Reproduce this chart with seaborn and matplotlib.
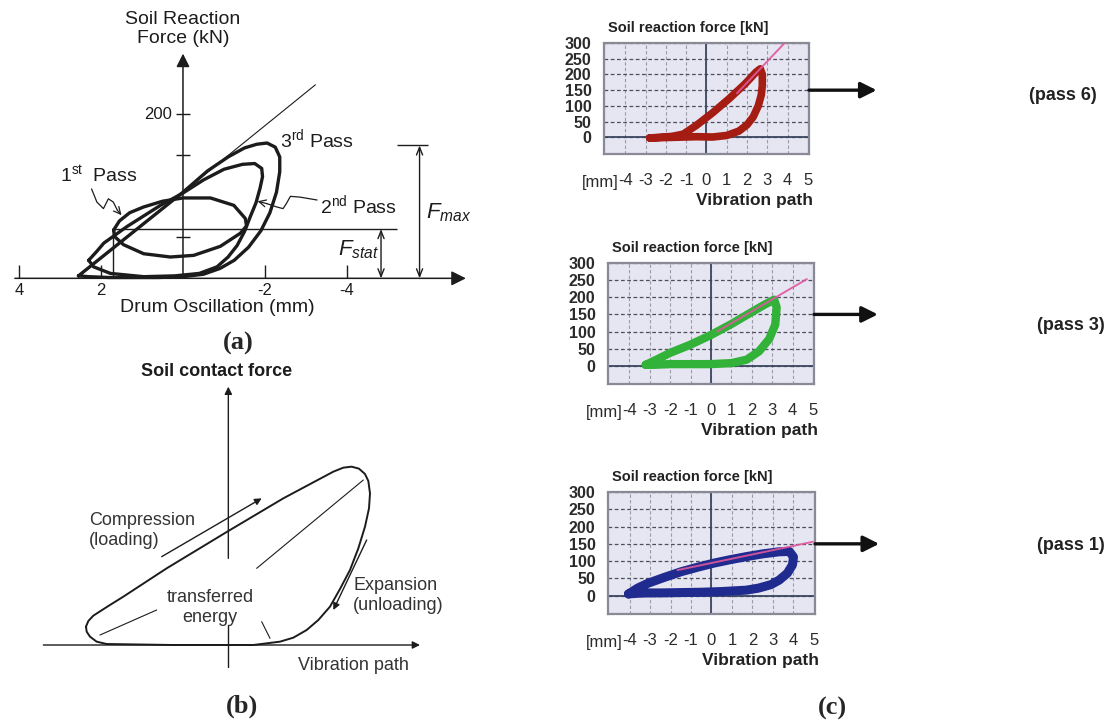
import matplotlib
matplotlib.use("Agg")
import matplotlib.pyplot as plt
import seaborn as sns

sns.set_style("white")
plt.rcParams["font.family"] = ["Liberation Sans", "DejaVu Sans"]
plt.rcParams["mathtext.fontset"] = "custom"
plt.rcParams["mathtext.rm"] = "Liberation Sans"
plt.rcParams["mathtext.it"] = "Liberation Sans:italic"
plt.rcParams["mathtext.bf"] = "Liberation Sans:bold"

# ---------------- Panel (a): drum oscillation [mm] vs soil reaction force [kN]
a_pass1_x = [1.69, 1.55, 1.30, 0.96, 0.50, 0.00, -0.67, -1.24, -1.52, -1.55, -1.40, -0.91, -0.26, 0.31, 0.96, 1.45, 1.67]
a_pass1_y = [59, 70, 80, 87, 94, 98, 98, 89, 73, 64, 55, 39, 28, 26, 30, 41, 51]
a_pass2_x = [2.30, 2.10, 1.93, 1.37, 0.55, 0.00, -0.50, -1.00, -1.45, -1.75, -1.92, -1.94, -1.88, -1.78,
             -1.64, -1.50, -1.32, -1.10, -0.83, -0.40, 0.20, 0.96, 1.77, 2.18]
a_pass2_y = [22, 33, 43, 63, 89, 104, 120, 133, 139, 140, 134, 124, 110, 92, 75, 57, 40, 26, 14, 6, 3, 2, 6, 14]
a_pass3_x = [2.55, 2.00, 1.00, 0.00, -0.60, -1.10, -1.50, -1.80, -2.05, -2.25, -2.36, -2.36, -2.28, -2.12,
             -1.90, -1.60, -1.25, -0.90, -0.50, 0.00, 0.60, 1.20, 1.80, 2.30]
a_pass3_y = [3, 25, 65, 105, 131, 148, 159, 163.5, 165, 160, 148, 130, 105, 80, 58, 38, 22, 12, 5, 2, 1, 1, 1, 2]
a_tangent_x = [2.55, -3.23]
a_tangent_y = [2, 236]
a_lead1_x = [2.23, 2.10, 1.94, 1.82, 1.70, 1.60, 1.50]
a_lead1_y = [109, 93, 85, 97, 93, 83, 77]
a_lead2_x = [-3.27, -2.86, -2.62, -2.52, -2.44, -2.29, -2.05, -1.82]
a_lead2_y = [95.5, 99, 100, 91, 85, 87, 91, 94]
a_xticks = [4, 2, -2, -4]
a_xtick_labels = ["4", "2", "-2", "-4"]
a_yticks = [50, 150, 200]
a_ylabelled = {200: "200"}
a_fstat = 60
a_fmax = 162
a_fstat_line = (1.71, -5.21)
a_fstat_arrow_x = -4.83
a_fmax_arrow_x = -5.77
a_fmax_bar = (-5.21, -5.98)

# ---------------- Panel (b): schematic loop
b_loop_x = [-4.27, -4.20, -4.05, -3.60, -3.15, -1.85, 0.00, 1.65, 3.15, 3.45, 3.70, 3.92, 4.10, 4.20, 4.25,
            4.22, 4.10, 3.90, 3.65, 3.35, 3.05, 2.70, 2.35, 1.95, 1.55, 0.75, -1.65, -3.65, -3.95, -4.15, -4.25]
b_loop_y = [0.55, 0.72, 0.88, 1.17, 1.45, 2.30, 3.42, 4.40, 5.20, 5.32, 5.35, 5.29, 5.13, 4.92, 4.55,
            4.10, 3.55, 2.90, 2.25, 1.68, 1.15, 0.75, 0.45, 0.22, 0.10, 0.00, 0.00, 0.03, 0.10, 0.25, 0.40]
b_hatch = [((-3.85, 0.30), (-2.15, 1.05)), ((0.85, 2.30), (4.05, 4.95)), ((1.00, 0.70), (1.25, 0.20))]
b_compression = ((-2.0, 2.65), (1.0, 4.4))
b_expansion = ((4.15, 3.15), (3.15, 1.05))

# ---------------- Panel (c): measured loops, vibration path [mm] vs soil reaction force [kN]
c_xticks = [-4, -3, -2, -1, 0, 1, 2, 3, 4, 5]
c_yticks = [0, 50, 100, 150, 200, 250, 300]
c6_x = [-2.80, -2.30, -1.70, -1.15, -0.50, 0.30, 1.10, 1.90, 2.45, 2.65, 2.75, 2.75, 2.70, 2.55, 2.30,
        2.00, 1.60, 1.00, 0.30, -0.50]
c6_y = [-2, 0, 3, 10, 38, 78, 122, 170, 208, 218, 200, 165, 135, 100, 65, 40, 20, 6, 1, 2]
c6_tan_x = [1.5, 3.85]
c6_tan_y = [140, 300]
c3_x = [-3.20, -2.60, -2.00, -1.00, 0.00, 1.00, 2.00, 2.70, 3.10, 3.22, 3.15, 2.85, 2.35, 1.75, 1.00, 0.00,
        -1.00, -2.00, -2.80]
c3_y = [3, 20, 38, 62, 90, 122, 157, 181, 193, 170, 120, 78, 42, 18, 8, 5, 5, 5, 3]
c3_tan_x = [0.3, 4.7]
c3_tan_y = [100, 253]
c1_x = [-4.05, -3.60, -3.10, -2.30, -1.50, -0.70, 0.10, 0.90, 1.70, 2.50, 3.30, 3.80, 4.00, 3.95, 3.70, 3.30,
        2.90, 2.30, 1.70, 0.50, -0.50, -1.50, -2.50, -3.10, -3.60]
c1_y = [5, 22, 36, 53, 69, 82, 94, 104, 113, 121, 127, 128, 112, 89, 65, 45, 32, 22, 16, 12, 10, 9, 8, 8, 7]
c1_tan_x = [-1.66, 4.95]
c1_tan_y = [74, 156]
c_arrow_level = 150

W, H = 1117, 725
fig = plt.figure(figsize=(W / 100, H / 100), dpi=100)
fig.patch.set_facecolor("white")


def px_axes(x0, y0, x1, y1):
    return fig.add_axes([x0 / W, 1 - y1 / H, (x1 - x0) / W, (y1 - y0) / H])


def line(ax, xs, ys, closed=False, **kw):
    if closed:
        xs = list(xs) + [xs[0]]
        ys = list(ys) + [ys[0]]
    sns.lineplot(x=xs, y=ys, sort=False, estimator=None, ax=ax, **kw)


INK = "#1c1c1c"
LAB = dict(family="Liberation Serif", weight="bold", fontsize=19)

# ======================= Panel (a)
ax = px_axes(0, 0, 480, 360)
ax.axis("off")
ax.annotate("", xy=(0, 274), xytext=(0, 0),
            arrowprops=dict(arrowstyle="-|>", color=INK, lw=1.1, mutation_scale=20, shrinkA=0, shrinkB=0))
ax.annotate("", xy=(-6.9, 0), xytext=(4.1, 0),
            arrowprops=dict(arrowstyle="-|>", color=INK, lw=1.1, mutation_scale=22, shrinkA=0, shrinkB=0))
ax.vlines(a_xticks, 0, 16, color=INK, lw=1)
for v, s in zip(a_xticks, a_xtick_labels):
    ax.text(v, -6, s, ha="center", va="top", fontsize=12, color=INK)
ax.hlines(a_yticks, -0.17, 0.17, color=INK, lw=1)
for v, s in a_ylabelled.items():
    ax.text(0.27, v, s, ha="right", va="center", fontsize=12, color=INK)

line(ax, a_tangent_x, a_tangent_y, color=INK, linewidth=0.8)
ax.hlines(a_fstat, a_fstat_line[0], a_fstat_line[1], color=INK, lw=1)
ax.vlines(a_fstat_line[0], 0, a_fstat, color=INK, lw=1)
for xs, ys in [(a_pass1_x, a_pass1_y), (a_pass2_x, a_pass2_y), (a_pass3_x, a_pass3_y)]:
    line(ax, xs, ys, closed=True, color=INK, linewidth=2.4, solid_joinstyle="round")

dbl = dict(arrowstyle="<->,head_length=0.55,head_width=0.22", color=INK, lw=1, shrinkA=0, shrinkB=0)
ax.annotate("", xy=(a_fstat_arrow_x, a_fstat), xytext=(a_fstat_arrow_x, 0), arrowprops=dbl)
ax.annotate("", xy=(a_fmax_arrow_x, a_fmax), xytext=(a_fmax_arrow_x, 0), arrowprops=dbl)
ax.hlines(a_fmax, a_fmax_bar[0], a_fmax_bar[1], color=INK, lw=1)

for xs, ys in [(a_lead1_x, a_lead1_y), (a_lead2_x, a_lead2_y)]:
    line(ax, xs[:-1], ys[:-1], color=INK, linewidth=0.9)
    ax.annotate("", xy=(xs[-1], ys[-1]), xytext=(xs[-2], ys[-2]),
                arrowprops=dict(arrowstyle="->,head_length=0.5,head_width=0.25", color=INK, lw=0.9,
                                shrinkA=0, shrinkB=0))

ax.text(0, 304.6, "Soil Reaction\nForce (kN)", ha="center", va="center", fontsize=14,
        linespacing=1.15, color=INK)
ax.text(-0.83, -36, "Drum Oscillation (mm)", ha="center", va="center", fontsize=14, color=INK)
ax.text(-2.37, 159.5, r"3$^{\mathrm{rd}}$ Pass", ha="left", va="baseline", fontsize=14, color=INK)
ax.text(3.0, 117.8, r"1$^{\mathrm{st}}$  Pass", ha="left", va="baseline", fontsize=14, color=INK)
ax.text(-3.33, 79.3, r"2$^{\mathrm{nd}}$ Pass", ha="left", va="baseline", fontsize=14, color=INK)
ax.text(-5.93, 73, r"$F_{max}$", ha="left", va="baseline", fontsize=16, color=INK)
ax.text(-4.78, 28.4, r"$F_{stat}$", ha="right", va="baseline", fontsize=16, color=INK)
ax.text(-1.34, -79, "(a)", ha="center", va="center", **LAB)
ax.set_xlim(4.463, -7.244)
ax.set_ylim(-99.6, 339.4)

# ======================= Panel (b)
bx = px_axes(0, 360, 480, 725)
bx.axis("off")
bx.plot([0, 0], [-0.65, 0.6], color=INK, lw=1)
bx.annotate("", xy=(0, 7.75), xytext=(0, 2.6),
            arrowprops=dict(arrowstyle="-|>", color=INK, lw=1, mutation_scale=11, shrinkA=0, shrinkB=0))
bx.annotate("", xy=(5.75, 0), xytext=(-5.55, 0),
            arrowprops=dict(arrowstyle="-|>", color=INK, lw=1, mutation_scale=11, shrinkA=0, shrinkB=0))
line(bx, b_loop_x, b_loop_y, closed=True, color=INK, linewidth=1.4, solid_joinstyle="round")
for (p0, p1) in b_hatch:
    line(bx, [p0[0], p1[0]], [p0[1], p1[1]], color=INK, linewidth=0.8)
for (p0, p1) in [b_compression, b_expansion]:
    bx.annotate("", xy=p1, xytext=p0,
                arrowprops=dict(arrowstyle="-|>", color=INK, lw=1, mutation_scale=10, shrinkA=0, shrinkB=0))
bx.text(-0.35, 8.2, "Soil contact force", ha="center", va="center", fontsize=13, weight="bold", color=INK)
bx.text(-4.17, 3.43, "Compression\n(loading)", ha="left", va="center", fontsize=13, linespacing=1.2, color="#333")
bx.text(-0.55, 1.13, "transferred\nenergy", ha="center", va="center", fontsize=13, linespacing=1.2, color="#333")
bx.text(3.75, 1.48, "Expansion\n(unloading)", ha="left", va="center", fontsize=13, linespacing=1.2, color="#333")
bx.text(2.1, -0.6, "Vibration path", ha="left", va="center", fontsize=13, color="#333")
bx.text(0.4, -1.85, "(b)", ha="center", va="center", **LAB)
bx.set_xlim(-6.85, 7.55)
bx.set_ylim(-2.4, 8.55)


# ======================= Panel (c)
def chart(box, lx, ly, tx, ty, color, lw, tip):
    cx = px_axes(*box)
    line(cx, lx, ly, closed=True, color=color, linewidth=lw, solid_joinstyle="round",
         solid_capstyle="round", zorder=3)
    line(cx, tx, ty, color="#e0579e", linewidth=1.4, alpha=0.9, zorder=4)
    cx.set_facecolor("#e6e6f2")
    cx.set_axisbelow(True)
    cx.set_xlim(-5.05, 5.05)
    cx.set_ylim(-53, 300)
    cx.set_xticks(c_xticks)
    cx.set_xticklabels([str(v) for v in c_xticks])
    cx.set_yticks(c_yticks)
    cx.set_yticklabels([str(v) for v in c_yticks])
    cx.tick_params(axis="x", length=0, pad=14, labelsize=12, labelcolor="#2b2b2b")
    cx.tick_params(axis="y", length=0, pad=9, labelsize=11.5, labelcolor="#2b2b2b")
    for t in cx.get_yticklabels():
        t.set_fontweight("bold")
    cx.grid(axis="y", linestyle=(0, (3, 2)), color="#4d4d5e", lw=0.9)
    cx.grid(axis="x", linestyle=(0, (3, 2)), color="#9a9aaa", lw=0.8)
    cx.axhline(0, color="#3c4660", lw=1.3, zorder=1.5)
    cx.axvline(0, color="#3c4660", lw=1.3, zorder=1.5)
    for s in cx.spines.values():
        s.set_visible(True)
        s.set_color("#8a8a96")
        s.set_linestyle((0, (1.5, 0.8)))
        s.set_linewidth(1.6)
    cx.set_xlabel("")
    cx.set_ylabel("")
    cx.annotate("Soil reaction force [kN]", xy=(0, 1), xycoords="axes fraction", xytext=(4, 15),
                textcoords="offset pixels", ha="left", va="center", fontsize=10.5, weight="bold", color="#222")
    cx.annotate("[mm]", xy=(-4, 0), xycoords=cx.get_xaxis_transform(), xytext=(-7, -29),
                textcoords="offset pixels", ha="right", va="center", fontsize=12, color="#2b2b2b")
    cx.annotate("Vibration path", xy=(1, 0), xycoords="axes fraction", xytext=(4, -47),
                textcoords="offset pixels", ha="right", va="center", fontsize=12.5, weight="bold", color="#222")
    cx.annotate("", xy=(tip, c_arrow_level), xytext=(1.0, c_arrow_level), xycoords=cx.get_yaxis_transform(),
                arrowprops=dict(arrowstyle="-|>", color="#111", lw=2.4, mutation_scale=24, shrinkA=0, shrinkB=0),
                annotation_clip=False)
    return cx


chart((604, 43, 809, 154), c6_x, c6_y, c6_tan_x, c6_tan_y, "#a51d12", 5.5, 1.33)
chart((608, 263, 814, 384), c3_x, c3_y, c3_tan_x, c3_tan_y, "#33b23a", 6.0, 1.31)
chart((608, 492, 815, 614), c1_x, c1_y, c1_tan_x, c1_tan_y, "#1f2b8f", 6.5, 1.31)

fig.text(1063 / W, 1 - 95 / H, "(pass 6)", ha="center", va="center", fontsize=13, weight="bold", color="#222")
fig.text(1071 / W, 1 - 325 / H, "(pass 3)", ha="center", va="center", fontsize=13, weight="bold", color="#222")
fig.text(1071 / W, 1 - 545 / H, "(pass 1)", ha="center", va="center", fontsize=13, weight="bold", color="#222")
fig.text(832 / W, 1 - 708 / H, "(c)", ha="center", va="center", **LAB)

fig.savefig("out.png", dpi=100)
